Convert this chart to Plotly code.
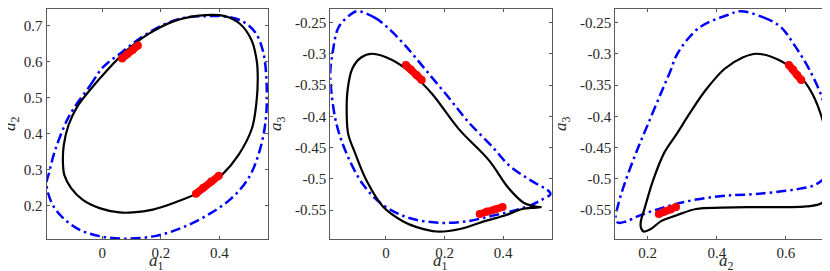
import plotly.graph_objects as go

# ---- data ----
# black solid closed orbit: coordinates a1, a2, a3
black_a1 = [-0.048, 0.021, 0.089, 0.157, 0.248, 0.351, 0.419, 0.470, 0.510, 0.528, 0.531,
            0.527, 0.511, 0.465, 0.408, 0.340, 0.253, 0.173, 0.105, 0.059, -0.009, -0.066,
            -0.106, -0.129, -0.134, -0.131, -0.115, -0.085]
black_a2 = [0.515, 0.580, 0.635, 0.677, 0.714, 0.730, 0.727, 0.706, 0.660, 0.600, 0.552,
            0.490, 0.414, 0.340, 0.284, 0.240, 0.209, 0.188, 0.180, 0.180, 0.192, 0.215,
            0.248, 0.284, 0.322, 0.368, 0.423, 0.475]
black_a3 = [-0.300, -0.310, -0.332, -0.364, -0.420, -0.470, -0.515, -0.538, -0.544, -0.545, -0.545,
            -0.545, -0.546, -0.548, -0.558, -0.567, -0.580, -0.584, -0.577, -0.568, -0.545, -0.503,
            -0.458, -0.428, -0.395, -0.358, -0.324, -0.306]

# blue dash-dot closed orbit
blue_a1 = [-0.097, -0.040, 0.003, 0.066, 0.134, 0.214, 0.283, 0.362, 0.419, 0.476, 0.522, 0.550,
           0.562, 0.556, 0.533, 0.499, 0.442, 0.362, 0.271, 0.180, 0.077, -0.009, -0.078,
           -0.134, -0.169, -0.186, -0.190, -0.182, -0.162, -0.123]
blue_a2 = [0.470, 0.535, 0.585, 0.626, 0.668, 0.705, 0.723, 0.727, 0.726, 0.714, 0.682, 0.626,
           0.515, 0.423, 0.340, 0.275, 0.220, 0.174, 0.137, 0.114, 0.107, 0.114, 0.132,
           0.165, 0.201, 0.239, 0.264, 0.288, 0.350, 0.432]
blue_a3 = [-0.232, -0.242, -0.257, -0.287, -0.325, -0.370, -0.410, -0.448, -0.478, -0.497, -0.510, -0.517,
           -0.524, -0.527, -0.533, -0.541, -0.550, -0.559, -0.568, -0.570, -0.562, -0.542, -0.509,
           -0.460, -0.412, -0.362, -0.330, -0.298, -0.258, -0.238]

# red thick segments
red1_a1 = [0.068, 0.085, 0.104, 0.122]
red1_a2 = [0.609, 0.621, 0.633, 0.645]
red1_a3 = [-0.318, -0.325, -0.334, -0.342]
red2_a1 = [0.320, 0.345, 0.372, 0.398]
red2_a2 = [0.232, 0.249, 0.266, 0.282]
red2_a3 = [-0.556, -0.552, -0.549, -0.545]

# tick values / labels
tick_a1 = [0, 0.2, 0.4]
tick_a1_text = ["0", "0.2", "0.4"]
tick_a2_y = [0.2, 0.3, 0.4, 0.5, 0.6, 0.7]
tick_a2_y_text = ["0.2", "0.3", "0.4", "0.5", "0.6", "0.7"]
tick_a2_x = [0.2, 0.4, 0.6]
tick_a2_x_text = ["0.2", "0.4", "0.6"]
tick_a3 = [-0.55, -0.5, -0.45, -0.4, -0.35, -0.3, -0.25]
tick_a3_text = ["-0.55", "-0.5", "-0.45", "-0.4", "-0.35", "-0.3", "-0.25"]

range_a1 = [-0.19, 0.566]
range_a2 = [0.106, 0.747]
range_a3 = [-0.596, -0.2285]


def closed(v):
    return list(v) + [v[0]]


FONT = "Liberation Serif, Times New Roman, serif"
W, H = 830, 271
fig = go.Figure()

panels = [
    ("x", "y", black_a1, black_a2, blue_a1, blue_a2, red1_a1, red1_a2, red2_a1, red2_a2),
    ("x2", "y2", black_a1, black_a3, blue_a1, blue_a3, red1_a1, red1_a3, red2_a1, red2_a3),
    ("x3", "y3", black_a2, black_a3, blue_a2, blue_a3, red1_a2, red1_a3, red2_a2, red2_a3),
]
for xa, ya, bx, by, ux, uy, r1x, r1y, r2x, r2y in panels:
    fig.add_trace(go.Scatter(x=closed(ux), y=closed(uy), mode="lines", xaxis=xa, yaxis=ya,
                             line=dict(color="#0000ff", width=2.5, dash="10px,4px,2.5px,4px", shape="spline", smoothing=1.0),
                             showlegend=False, hoverinfo="skip"))
    fig.add_trace(go.Scatter(x=closed(bx), y=closed(by), mode="lines", xaxis=xa, yaxis=ya,
                             line=dict(color="#000000", width=2.2, shape="spline", smoothing=1.0),
                             showlegend=False, hoverinfo="skip"))
    for rx, ry in ((r1x, r1y), (r2x, r2y)):
        fig.add_trace(go.Scatter(x=rx, y=ry, mode="lines+markers", xaxis=xa, yaxis=ya,
                                 line=dict(color="#ff0000", width=7.5),
                                 marker=dict(color="#ff0000", size=8),
                                 showlegend=False, hoverinfo="skip"))

ydom = [(H - 231) / H, (H - 1) / H]
xdoms = [[38.5 / W, 260 / W], [322.3 / W, 543.8 / W], [607.3 / W, 828.5 / W]]

axis_common = dict(showgrid=False, zeroline=False, showline=True, linecolor="#5a5a5a", linewidth=1,
                   mirror="ticks", ticks="inside", ticklen=3, tickwidth=1, tickcolor="#5a5a5a",
                   tickfont=dict(family=FONT, size=15, color="#262626"))

fig.update_layout(
    width=W, height=H, margin=dict(l=0, r=0, t=0, b=0),
    plot_bgcolor="white", paper_bgcolor="white",
    xaxis=dict(domain=xdoms[0], range=range_a1, tickvals=tick_a1, ticktext=tick_a1_text, anchor="y", **axis_common),
    yaxis=dict(domain=ydom, range=range_a2, tickvals=tick_a2_y, ticktext=tick_a2_y_text, anchor="x", **axis_common),
    xaxis2=dict(domain=xdoms[1], range=range_a1, tickvals=tick_a1, ticktext=tick_a1_text, anchor="y2", **axis_common),
    yaxis2=dict(domain=ydom, range=range_a3, tickvals=tick_a3, ticktext=tick_a3_text, anchor="x2", **axis_common),
    xaxis3=dict(domain=xdoms[2], range=range_a2, tickvals=tick_a2_x, ticktext=tick_a2_x_text, anchor="y3", **axis_common),
    yaxis3=dict(domain=ydom, range=range_a3, tickvals=tick_a3, ticktext=tick_a3_text, anchor="x3", **axis_common),
)

labels = [
    ("<i>a</i><sub>1</sub>", 148, 254, 0),
    ("<i>a</i><sub>1</sub>", 432, 254, 0),
    ("<i>a</i><sub>2</sub>", 718, 254, 0),
    ("<i>a</i><sub>2</sub>", 3, 116, -90),
    ("<i>a</i><sub>3</sub>", 269, 116, -90),
    ("<i>a</i><sub>3</sub>", 554, 116, -90),
]
for txt, px, py, ang in labels:
    fig.add_annotation(text=txt, xref="paper", yref="paper", x=px / W, y=1 - py / H,
                       xanchor="center", yanchor="middle", showarrow=False, textangle=ang,
                       font=dict(family=FONT, size=17, color="#262626"))

fig.write_html("out.html")
